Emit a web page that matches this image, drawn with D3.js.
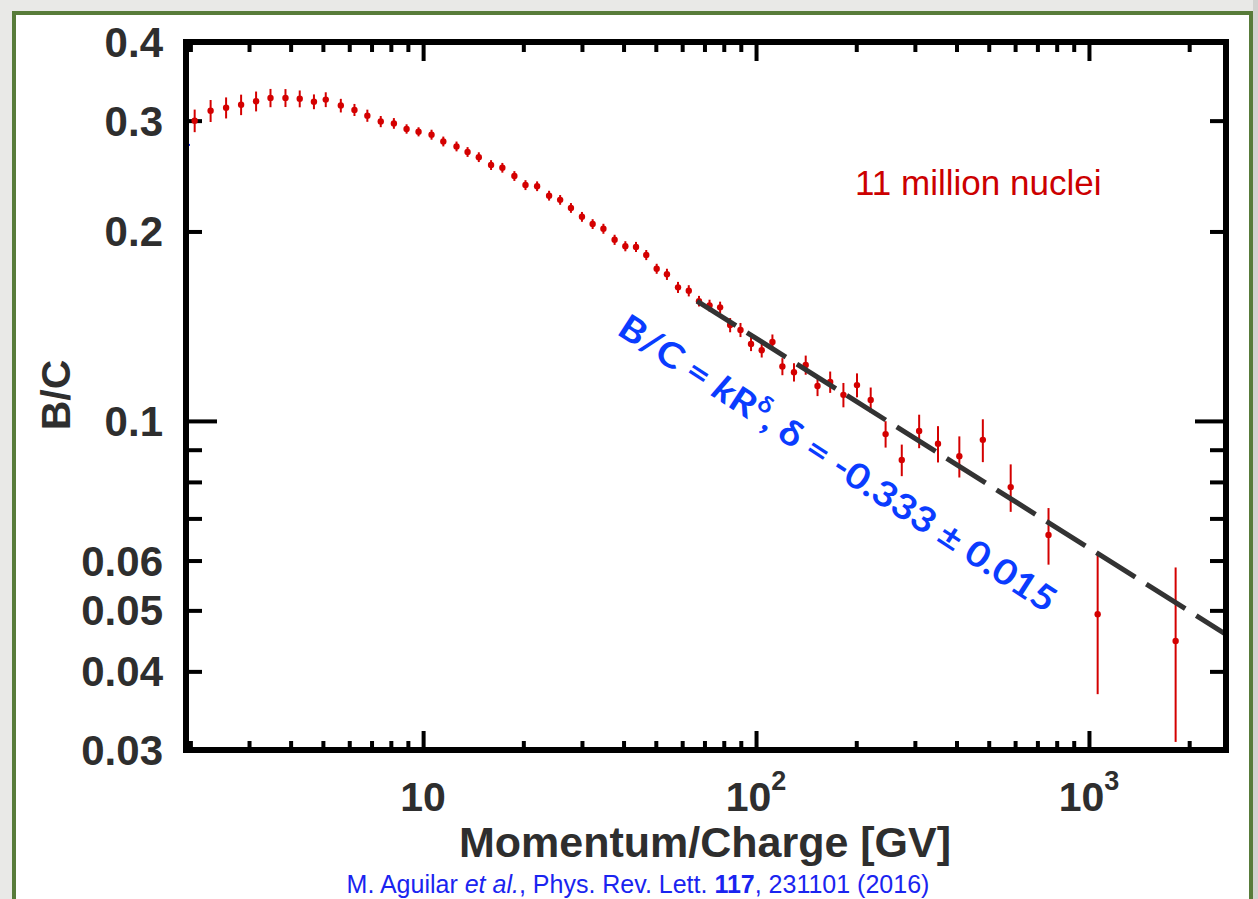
<!DOCTYPE html>
<html>
<head>
<meta charset="utf-8">
<script src="https://d3js.org/d3.v7.min.js"></script>
<style>
  html, body { margin: 0; padding: 0; background: #e9e9e7; }
  svg { display: block; }
</style>
</head>
<body>
<script>
// AMS B/C ratio data
var rigidity = [2.06, 2.30, 2.56, 2.84, 3.15, 3.48, 3.86, 4.26, 4.70, 5.10,
    5.66, 6.22, 6.80, 7.46, 8.17, 8.92, 9.69, 10.6, 11.5, 12.6,
    13.6, 14.7, 16.0, 17.3, 18.8, 20.3, 22.0, 23.9, 25.8, 27.8,
    30.0, 32.3, 34.8, 37.6, 40.5, 43.6, 46.8, 50.3, 54.0, 58.3,
    62.8, 67.4, 72.5, 78.0, 83.6, 89.8, 96.6, 104, 112, 120,
    130, 141, 153, 167, 183, 201, 221, 245, 274, 309,
    352, 408, 480, 582, 756, 1062, 1821];
var ratio = [0.300, 0.311, 0.3145, 0.318, 0.322, 0.326, 0.326, 0.325, 0.3215, 0.324,
    0.317, 0.312, 0.3055, 0.299, 0.297, 0.291, 0.288, 0.285, 0.278, 0.273,
    0.2675, 0.2625, 0.255, 0.2525, 0.245, 0.237, 0.236, 0.228, 0.2245, 0.218,
    0.211, 0.2055, 0.202, 0.194, 0.1895, 0.189, 0.1835, 0.1745, 0.171, 0.163,
    0.161, 0.155, 0.1525, 0.1515, 0.142, 0.1395, 0.1325, 0.1295, 0.1335, 0.122,
    0.1195, 0.1227, 0.1136, 0.1153, 0.110, 0.114, 0.108, 0.0953, 0.0867, 0.0964,
    0.092, 0.0879, 0.0933, 0.0785, 0.0659, 0.0493, 0.0447];
var ratioErr = [0.0124, 0.0125, 0.0121, 0.0119, 0.0117, 0.0109, 0.0107, 0.0100, 0.0087, 0.0088,
    0.0079, 0.0069, 0.0068, 0.0061, 0.0058, 0.0050, 0.0048, 0.0052, 0.0050, 0.0049,
    0.0048, 0.0047, 0.0046, 0.0045, 0.0044, 0.0043, 0.0042, 0.0041, 0.0040, 0.0039,
    0.0038, 0.0037, 0.0037, 0.0036, 0.0035, 0.0035, 0.0034, 0.0032, 0.0035, 0.0033,
    0.0033, 0.0030, 0.0033, 0.0032, 0.0037, 0.0036, 0.0034, 0.0034, 0.0037, 0.0038,
    0.0040, 0.0043, 0.0041, 0.0045, 0.0049, 0.0050, 0.0050, 0.0046, 0.0050, 0.0059,
    0.0061, 0.0066, 0.0073, 0.0068, 0.0068, 0.0125, 0.0138];

// power law fit end points (B/C = k R^delta)
var fitR = [66.5, 2580];
var fitRatio = [0.155, 0.0458];

// the little blue mark on the left edge
var blueR = [1.94];
var blueRatio = [0.2745];

// axis ranges and ticks
var xDomain = [1.94, 2580];
var yDomain = [0.03, 0.4];
var xMajor = [10, 100, 1000];
var xMinor = [2, 3, 4, 5, 6, 7, 8, 9, 20, 30, 40, 50, 60, 70, 80, 90,
    200, 300, 400, 500, 600, 700, 800, 900, 2000];
var xLabels = [["10", ""], ["10", "2"], ["10", "3"]];
var yMajor = [0.1];
var yMinor = [0.03, 0.04, 0.05, 0.06, 0.07, 0.08, 0.09, 0.2, 0.3, 0.4];
var yLabelValues = [0.03, 0.04, 0.05, 0.06, 0.1, 0.2, 0.3, 0.4];
var yLabelText = ["0.03", "0.04", "0.05", "0.06", "0.1", "0.2", "0.3", "0.4"];

window.onload = drawChart();

function drawChart(){

    var width = 1258,
        height = 899;

    var svg = d3.select("body")
        .append("svg")
        .attr("width", width)
        .attr("height", height);

    // slide frame: shadow, white panel, green border
    svg.append("rect")
        .attr("x", 1253).attr("y", 0)
        .attr("width", 5).attr("height", height)
        .attr("fill", "#d2d2d0");
    svg.append("rect")
        .attr("x", 14).attr("y", 13)
        .attr("width", 1237).attr("height", 920)
        .attr("fill", "#ffffff")
        .attr("stroke", "#587c3a")
        .attr("stroke-width", 4);

    var left = 186, right = 1226, top = 42, bottom = 750;

    var x = d3.scaleLog().domain(xDomain).range([left, right]);
    var y = d3.scaleLog().domain(yDomain).range([bottom, top]);

    var fontMain = "'Liberation Sans', Arial, Helvetica, sans-serif";
    var textColor = "#2e2e2e";

    // ticks, drawn with d3 axes (labels are added by hand below)
    function ticks(axis, values, size, tx, ty){
        var g = svg.append("g")
            .attr("transform", "translate(" + tx + "," + ty + ")")
            .call(axis.tickValues(values).tickSize(size).tickFormat(""));
        g.select(".domain").remove();
        g.selectAll(".tick line")
            .attr("stroke", "#000")
            .attr("stroke-width", 4);
    }
    ticks(d3.axisBottom(x), xMinor, -9, 0, bottom);
    ticks(d3.axisBottom(x), xMajor, -19, 0, bottom);
    ticks(d3.axisTop(x), xMinor, -10, 0, top);
    ticks(d3.axisTop(x), xMajor, -19, 0, top);
    ticks(d3.axisLeft(y), yMinor, -16, left, 0);
    ticks(d3.axisLeft(y), yMajor, -31, left, 0);
    ticks(d3.axisRight(y), yMinor, -16, right, 0);
    ticks(d3.axisRight(y), yMajor, -31, right, 0);

    // plot area clip
    svg.append("clipPath")
        .attr("id", "plotClip")
        .append("rect")
        .attr("x", left).attr("y", top)
        .attr("width", right - left).attr("height", bottom - top);

    var plot = svg.append("g").attr("clip-path", "url(#plotClip)");

    // data points with error bars
    var points = rigidity.map(function(r, i){
        return {r: r, v: ratio[i], e: ratioErr[i]};
    });

    plot.selectAll(".err")
        .data(points)
        .enter()
        .append("line")
        .attr("class", "err")
        .attr("x1", function(d){ return x(d.r); })
        .attr("x2", function(d){ return x(d.r); })
        .attr("y1", function(d){ return y(d.v - d.e); })
        .attr("y2", function(d){ return y(d.v + d.e); })
        .attr("stroke", "#d40000")
        .attr("stroke-width", 2);

    plot.selectAll(".pt")
        .data(points)
        .enter()
        .append("circle")
        .attr("class", "pt")
        .attr("cx", function(d){ return x(d.r); })
        .attr("cy", function(d){ return y(d.v); })
        .attr("r", 3.2)
        .attr("fill", "#d40000");

    // fit line
    var fitLine = d3.line()
        .x(function(d){ return x(d[0]); })
        .y(function(d){ return y(d[1]); });
    plot.append("path")
        .datum(fitR.map(function(r, i){ return [r, fitRatio[i]]; }))
        .attr("d", fitLine)
        .attr("fill", "none")
        .attr("stroke", "#333333")
        .attr("stroke-width", 5)
        .attr("stroke-dasharray", "46,13");

    // blue mark at the edge
    svg.selectAll(".blue")
        .data(blueR)
        .enter()
        .append("line")
        .attr("x1", function(d){ return x(d) - 2; })
        .attr("x2", function(d){ return x(d) + 4; })
        .attr("y1", function(d, i){ return y(blueRatio[i]); })
        .attr("y2", function(d, i){ return y(blueRatio[i]); })
        .attr("stroke", "#1a2cff")
        .attr("stroke-width", 2);

    // frame
    svg.append("rect")
        .attr("x", left).attr("y", top)
        .attr("width", right - left).attr("height", bottom - top)
        .attr("fill", "none")
        .attr("stroke", "#000")
        .attr("stroke-width", 6);

    // y tick labels
    svg.selectAll(".ylab")
        .data(yLabelValues)
        .enter()
        .append("text")
        .attr("x", 163)
        .attr("y", function(d){ return y(d) + 15; })
        .attr("text-anchor", "end")
        .attr("font-family", fontMain)
        .attr("font-weight", "bold")
        .attr("font-size", 42)
        .attr("fill", textColor)
        .text(function(d, i){ return yLabelText[i]; });

    // x tick labels with exponents
    var xl = svg.selectAll(".xlab")
        .data(xMajor)
        .enter()
        .append("text")
        .attr("x", function(d){ return x(d); })
        .attr("y", 811)
        .attr("text-anchor", "middle")
        .attr("font-family", fontMain)
        .attr("font-weight", "bold")
        .attr("font-size", 41)
        .attr("fill", textColor);
    xl.append("tspan").text(function(d, i){ return xLabels[i][0]; });
    xl.append("tspan")
        .attr("dy", -21)
        .attr("font-size", 27)
        .text(function(d, i){ return xLabels[i][1]; });

    // axis titles
    svg.append("text")
        .attr("x", 705)
        .attr("y", 857)
        .attr("text-anchor", "middle")
        .attr("font-family", fontMain)
        .attr("font-weight", "bold")
        .attr("font-size", 43)
        .attr("fill", textColor)
        .text("Momentum/Charge [GV]");

    svg.append("text")
        .attr("transform", "translate(70,395) rotate(-90)")
        .attr("text-anchor", "middle")
        .attr("font-family", fontMain)
        .attr("font-weight", "bold")
        .attr("font-size", 41)
        .attr("fill", textColor)
        .text("B/C");

    // annotation
    svg.append("text")
        .attr("x", 855)
        .attr("y", 195)
        .attr("font-family", fontMain)
        .attr("font-size", 35)
        .attr("fill", "#cc0000")
        .text("11 million nuclei");

    // fit formula, rotated along the line (narrow glyphs like the original)
    var formula = svg.append("text")
        .attr("transform", "translate(836,466) rotate(33)")
        .attr("text-anchor", "middle")
        .attr("dominant-baseline", "middle")
        .attr("font-family", "Lato, 'Open Sans', sans-serif")
        .attr("font-weight", "bold")
        .attr("font-size", 35)
        .attr("textLength", 514)
        .attr("lengthAdjust", "spacingAndGlyphs")
        .attr("fill", "#0a3cff");
    formula.append("tspan").text("B/C = ");
    formula.append("tspan").attr("font-style", "italic").text("k");
    formula.append("tspan").text("R");
    formula.append("tspan")
        .attr("font-size", "0.65em")
        .attr("dy", "-0.5em")
        .text("\u03b4");
    formula.append("tspan")
        .attr("dy", "0.33em")
        .text(", \u03b4 = -0.333 \u00b1 0.015");

    // citation
    var cite = svg.append("text")
        .attr("x", 638)
        .attr("y", 893)
        .attr("text-anchor", "middle")
        .attr("font-family", fontMain)
        .attr("font-size", 25)
        .attr("fill", "#1a24f0");
    cite.append("tspan").text("M. Aguilar ");
    cite.append("tspan").attr("font-style", "italic").text("et al.");
    cite.append("tspan").text(", Phys. Rev. Lett. ");
    cite.append("tspan").attr("font-weight", "bold").text("117");
    cite.append("tspan").text(", 231101 (2016)");
};
</script>
</body>
</html>
